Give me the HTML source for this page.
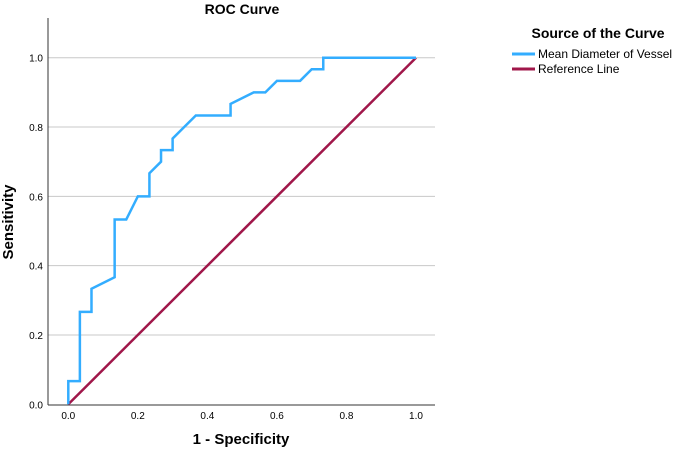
<!DOCTYPE html>
<html><head><meta charset="utf-8"><style>
body{margin:0;background:#fff;width:685px;height:452px;overflow:hidden;font-family:"Liberation Sans",sans-serif}
</style></head><body>
<svg id="chart" width="685" height="452">
<text x="242" y="14" text-anchor="middle" font-size="14" font-weight="bold">ROC Curve</text>
<g id="grid"></g>
<g id="axes"></g>
<text x="241" y="444" text-anchor="middle" font-size="15" font-weight="bold">1 - Specificity</text>
<text transform="translate(13,222) rotate(-90)" text-anchor="middle" font-size="15" font-weight="bold">Sensitivity</text>
<g>
<text x="598" y="38" text-anchor="middle" font-size="14" font-weight="bold">Source of the Curve</text>
<line x1="512" y1="54" x2="535" y2="54" stroke="#33adff" stroke-width="3"/>
<text x="538" y="58" font-size="12">Mean Diameter of Vessel</text>
<line x1="512" y1="69" x2="535" y2="69" stroke="#a0174a" stroke-width="3"/>
<text x="538" y="73" font-size="12">Reference Line</text>
</g>
<g id="series"></g>
</svg>
<script>
const fprValues=[0,0,0.0333,0.0333,0.0667,0.0667,0.1333,0.1333,0.1667,0.2,0.2333,0.2333,0.2667,0.2667,0.3,0.3,0.3667,0.4667,0.4667,0.5333,0.5667,0.6,0.6667,0.7,0.7333,0.7333,1];
const tprValues=[0,0.0667,0.0667,0.2667,0.2667,0.3333,0.3667,0.5333,0.5333,0.6,0.6,0.6667,0.7,0.7333,0.7333,0.7667,0.8333,0.8333,0.8667,0.9,0.9,0.9333,0.9333,0.9667,0.9667,1,1];
const refX=[0,1], refY=[0,1];
const xTicks=[0,0.2,0.4,0.6,0.8,1.0];
const yTicks=[0,0.2,0.4,0.6,0.8,1.0];
const NS="http://www.w3.org/2000/svg";
const sx=v=>68.3+v*(416-68.3), sy=v=>404.3-v*(404.3-57.7);
const grid=document.getElementById('grid'),axes=document.getElementById('axes'),series=document.getElementById('series');
function mk(tag,at,parent){const e=document.createElementNS(NS,tag);for(const k in at)e.setAttribute(k,at[k]);parent.appendChild(e);return e;}
yTicks.forEach(t=>{
 if(t>0){const g=mk('line',{x1:48,x2:435,y1:sy(t),y2:sy(t),stroke:'#c8c8c8','stroke-width':1},grid);
 
 }
 const tx=mk('text',{x:43,y:sy(t)+4,'text-anchor':'end','font-size':10},axes);tx.textContent=t.toFixed(1);
 
 
});
xTicks.forEach(t=>{
 const tx=mk('text',{x:sx(t),y:419,'text-anchor':'middle','font-size':10},axes);tx.textContent=t.toFixed(1);
 
 
});
const ya=mk('line',{x1:48,x2:48,y1:18,y2:405,stroke:'#333','stroke-width':1},axes);


const xa=mk('line',{x1:48,x2:435,y1:405,y2:405,stroke:'#333','stroke-width':1},axes);


const ref=mk('polyline',{points:refX.map((v,i)=>sx(v)+','+sy(refY[i])).join(' '),fill:'none',stroke:'#a0174a','stroke-width':2.5},series);


const roc=mk('polyline',{points:fprValues.map((v,i)=>sx(v)+','+sy(tprValues[i])).join(' '),fill:'none',stroke:'#33adff','stroke-width':2.5},series);


</script>
</body></html>
